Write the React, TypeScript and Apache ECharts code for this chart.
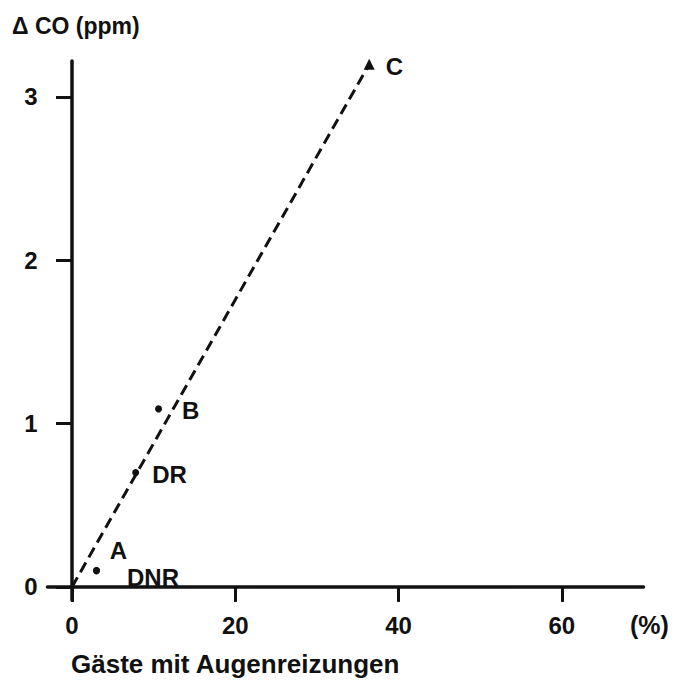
import React, { useEffect, useRef } from "react";
import * as echarts from "echarts";

const xTicks = [0, 20, 40, 60];
const yTicks = [0, 1, 2, 3];
const pointNames = ["C", "B", "DR", "A", "DNR"];
const pointX = [36.4, 10.6, 7.8, 3.0, 3.0];
const pointY = [3.2, 1.09, 0.7, 0.1, 0.1];
const fitX = [0, 36.4];
const fitY = [0, 3.2];

const FONT = "Liberation Sans";
const INK = "#111";

export default function App() {
  const ref = useRef<HTMLDivElement>(null);
  useEffect(() => {
    if (!ref.current) return;
    const chart = echarts.init(ref.current, undefined, { renderer: "svg" });
    const labelPos: Record<string, any> = {
      C: { position: "right", offset: [6, 2] },
      B: { position: "right", offset: [15, 2] },
      DR: { position: "right", offset: [8, 2] },
      A: { position: "top", offset: [22, 0] },
      DNR: { position: "right", offset: [22, 7] },
    };
    const axisLineStyle = { color: INK, width: 3.5 };
    chart.setOption({
      animation: false,
      backgroundColor: "#fff",
      grid: { left: 47.5, right: 39.5, top: 61, bottom: 88, containLabel: false },
      xAxis: {
        type: "value",
        min: -3,
        max: 70,
        axisLine: { onZero: true, lineStyle: axisLineStyle },
        axisTick: { show: true, length: 15, inside: false, customValues: xTicks, lineStyle: { color: INK, width: 3 } },
        axisLabel: { customValues: xTicks, margin: 13, fontSize: 24, fontWeight: "bold", color: INK, fontFamily: FONT },
        splitLine: { show: false },
      },
      yAxis: {
        type: "value",
        min: -0.08,
        max: 3.22,
        axisLine: { onZero: true, lineStyle: axisLineStyle },
        axisTick: { show: true, length: 16, inside: false, customValues: yTicks, lineStyle: { color: INK, width: 3 } },
        axisLabel: { customValues: yTicks, margin: 10, fontSize: 24, fontWeight: "bold", color: INK, fontFamily: FONT },
        splitLine: { show: false },
      },
      series: [
        {
          type: "line",
          data: fitX.map((x, i) => [x, fitY[i]]),
          symbol: "none",
          lineStyle: { color: INK, width: 3, type: [11, 6] },
          z: 2,
        },
        {
          type: "scatter",
          data: pointNames.map((n, i) => ({
            name: n,
            value: [pointX[i], pointY[i]],
            symbol: n === "C" ? "triangle" : "circle",
            symbolSize: n === "C" ? 11 : 7,
            label: {
              show: true,
              formatter: n,
              fontSize: 24,
              fontWeight: "bold",
              color: INK,
              opacity: 1,
              fontFamily: FONT,
              ...labelPos[n],
            },
          })),
          itemStyle: { color: INK, opacity: 1 },
          z: 3,
        },
      ],
      graphic: [
        {
          type: "text",
          left: 12,
          top: 14,
          style: { text: "Δ CO (ppm)", fontSize: 23, fontWeight: "bold", fill: INK, fontFamily: FONT },
        },
        {
          type: "text",
          left: 630,
          top: 612,
          style: { text: "(%)", fontSize: 25, fontWeight: "bold", fill: INK, fontFamily: FONT },
        },
        {
          type: "text",
          left: 71,
          top: 651,
          style: { text: "Gäste mit Augenreizungen", fontSize: 26, fontWeight: "bold", fill: INK, fontFamily: FONT },
        },
      ],
    });
    return () => chart.dispose();
  }, []);
  return <div ref={ref} style={{ width: 683, height: 688, marginLeft: -8, marginTop: -8 }} />;
}
